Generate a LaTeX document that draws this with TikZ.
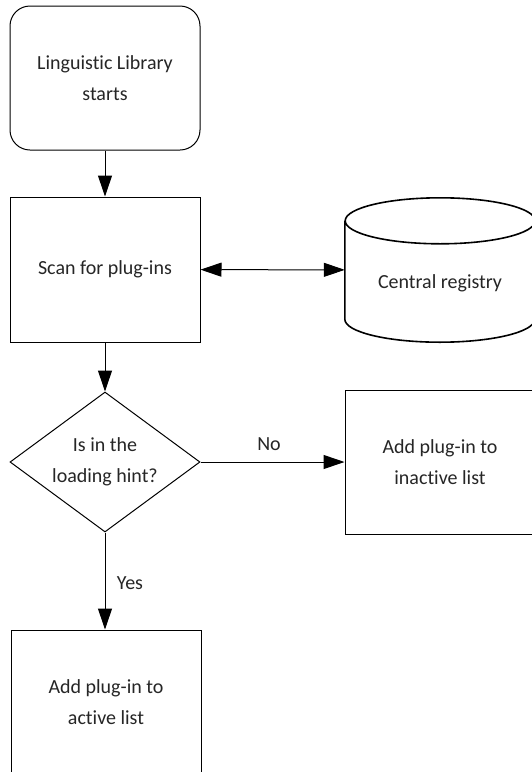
\documentclass[tikz,border=0pt]{standalone}
\usepackage{fontspec}
\setmainfont[Ligatures=NoCommon]{Carlito}
\usetikzlibrary{shapes.geometric,arrows.meta}
\tikzset{
  base/.style={draw=black, line width=1pt, align=center, inner sep=0pt,
    font=\fontsize{20}{31}\selectfont, text=black!85},
  startbox/.style={base, rectangle, rounded corners=20pt, minimum width=190pt, minimum height=144pt},
  procbox/.style={base, rectangle, minimum width=190pt, minimum height=145pt},
  decision/.style={base, diamond, aspect=1.357, minimum width=190pt, minimum height=140pt},
  conn/.style={line width=1pt, -{Triangle[length=21pt,width=14pt]}},
  dconn/.style={line width=1pt, {Triangle[length=21pt,width=14pt]}-{Triangle[length=21pt,width=14pt]}},
  lbl/.style={font=\fontsize{20}{24}\selectfont, text=black!85, inner sep=0pt}
}
\begin{document}
\begin{tikzpicture}[x=1pt,y=-1pt]
\useasboundingbox (0,0) rectangle (532,772);
\clip (0,0) rectangle (532,772);
\fill[white] (0,0) rectangle (532,772);

\node[startbox] (start) at (105,78) {Linguistic Library\\starts};
\node[procbox] (scan) at (105,269.5) {Scan for plug-ins};
\node[decision] (dec) at (105,462) {Is in the\\loading hint?};
\node[procbox, minimum height=144pt] (inact) at (440,462) {Add plug-in to\\inactive list};
\node[procbox] (act) at (106,702.5) {Add plug-in to\\active list};

% cylinder
\node[minimum width=190pt, minimum height=144pt, inner sep=0pt] (reg) at (440,270) {};
\draw[line width=1.6pt] ([yshift=-23pt]reg.north west) -- ([yshift=23pt]reg.south west)
  arc[start angle=180, end angle=360, x radius=95pt, y radius=23pt]
  -- ([yshift=-23pt]reg.north east)
  arc[start angle=0, end angle=360, x radius=95pt, y radius=23pt];
\node[lbl] (regtext) at (440,283) {Central registry};

\draw[conn] (start) -- (scan);
\draw[dconn] (scan) -- (reg);
\draw[conn] (scan) -- (dec);
\draw[conn] (dec.east) -- (inact.west);
\draw[conn] (dec.south) -- (dec.south |- act.north);

\node[lbl] (no) at (269,444) {No};
\node[lbl] (yes) at (130,583) {Yes};
\end{tikzpicture}
\end{document}
